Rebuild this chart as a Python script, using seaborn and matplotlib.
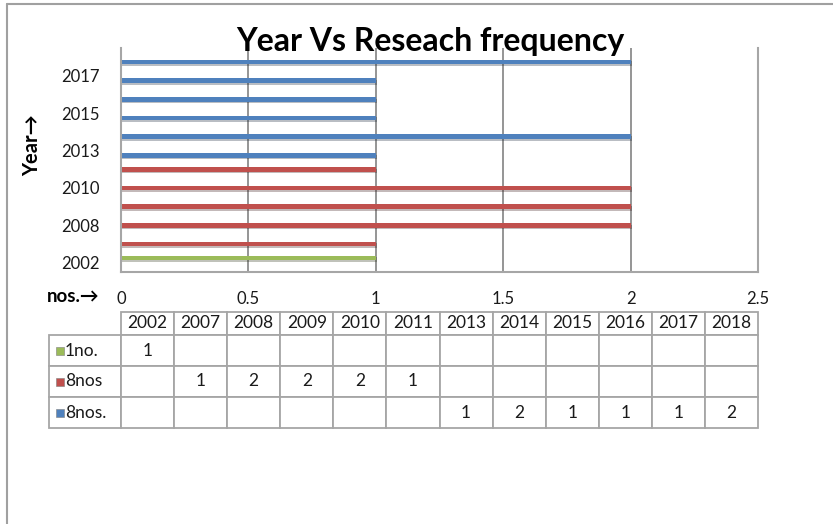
import matplotlib
matplotlib.use('Agg')
import numpy as np
import pandas as pd
import matplotlib.pyplot as plt
import matplotlib.patheffects as pe
from matplotlib.lines import Line2D
from matplotlib.patches import Rectangle
import seaborn as sns

# chart data
years = ['2002', '2007', '2008', '2009', '2010', '2011',
         '2013', '2014', '2015', '2016', '2017', '2018']
series_names = ['1no.', '8nos', '8nos.']
one_no = [1, None, None, None, None, None, None, None, None, None, None, None]
eight_nos = [None, 1, 2, 2, 2, 1, None, None, None, None, None, None]
eight_nos_dot = [None, None, None, None, None, None, 1, 2, 1, 1, 1, 2]
colors = ['#9bbb59', '#c0504d', '#4f81bd']
x_ticks = [0, 0.5, 1, 1.5, 2, 2.5]

sns.set_style('white')
plt.rcParams['font.family'] = ['Lato', 'DejaVu Sans']
plt.rcParams['text.color'] = '#1a1a1a'

series_values = [one_no, eight_nos, eight_nos_dot]
rows = []
for name, vals in zip(series_names, series_values):
    for yr, v in zip(years, vals):
        if v is not None:
            rows.append({'year': yr, 'series': name, 'value': v})
df = pd.DataFrame(rows)

W, H = 833, 524
fig = plt.figure(figsize=(W / 100, H / 100), dpi=100)
ax = fig.add_axes([121 / W, 1 - 272 / H, 637 / W, 224 / H])

sns.barplot(data=df, x='value', y='year', hue='series', order=years[::-1],
            hue_order=series_names, palette=colors, orient='h', width=0.75,
            dodge=True, errorbar=None, saturation=1, legend=False,
            linewidth=0, edgecolor='none', ax=ax)

for p in ax.patches:
    p.set_path_effects([pe.SimplePatchShadow(offset=(1, -1.2), alpha=0.3),
                        pe.Normal()])

ax.set_xlim(0, 2.5)
ax.set_ylim(len(years) - 0.5, -0.5)
ax.set_xticks(x_ticks)
ax.set_xticklabels([f'{t:g}' for t in x_ticks])
shown = years[::2]
ax.set_yticks([years[::-1].index(y) for y in shown])
ax.set_yticklabels(shown)
ax.tick_params(axis='x', length=0, pad=14, labelsize=12, labelcolor='#1a1a1a')
ax.tick_params(axis='y', length=0, pad=15, labelsize=12, labelcolor='#1a1a1a')
ax.set_xlabel('')
ax.set_ylabel('')
ax.xaxis.grid(True, color='#8c8c8c', lw=1.3)
ax.set_axisbelow(True)
for side in ['left', 'bottom', 'right']:
    ax.spines[side].set_color('#a6a6a6')
    ax.spines[side].set_linewidth(1.5)
ax.spines['top'].set_visible(False)

fig.text(430 / W, 1 - 42 / H, 'Year Vs Reseach frequency', ha='center',
         va='center', fontsize=23, fontweight='bold', color='black')
fig.text(32 / W, 1 - 145 / H, 'Year→', rotation=90, ha='center', va='center',
         fontsize=14.5, fontweight='bold', color='black')
fig.text(47 / W, 1 - 296 / H, 'nos.→', ha='left', va='center',
         fontsize=13.5, fontweight='bold', color='black')

# data table below the plot
tax = fig.add_axes([49 / W, 1 - 428 / H, 709 / W, 116 / H])
tax.axis('off')
cell_text = [[''] + years]
for name, vals in zip(series_names, series_values):
    cell_text.append([name] + ['' if v is None else str(v) for v in vals])
col_w = [72 / 709] + [637 / 12 / 709] * len(years)
table = tax.table(cellText=cell_text, cellLoc='center', colWidths=col_w,
                  bbox=[0, 0, 1, 1])
table.auto_set_font_size(False)
table.set_fontsize(12.5)
h0, hr = 23 / 116, 31 / 116
for (r, c), cell in table.get_celld().items():
    cell.set_edgecolor('#a6a6a6')
    cell.set_linewidth(1.3)
    cell.set_height(h0 if r == 0 else hr)
    if c == 0 and r > 0:
        cell.get_text().set_ha('left')
        cell.PAD = 0.22
table[0, 0].visible_edges = 'open'

for i, col in enumerate(colors):
    yc = 1 - (h0 + (i + 0.5) * hr)
    tax.add_patch(Rectangle((7 / 709, yc - 4 / 116), 8 / 709, 8 / 116,
                            transform=tax.transAxes, facecolor=col,
                            edgecolor='#7f7f7f', lw=0.4, zorder=5))

# outer chart border
fig.add_artist(Line2D([7 / W, 7 / W], [0, 1 - 4 / H], transform=fig.transFigure,
                      color='#a0a0a0', lw=1.5))
fig.add_artist(Line2D([7 / W, 1], [1 - 4 / H, 1 - 4 / H], transform=fig.transFigure,
                      color='#a0a0a0', lw=1.5))

fig.savefig('out.png', dpi=100)
